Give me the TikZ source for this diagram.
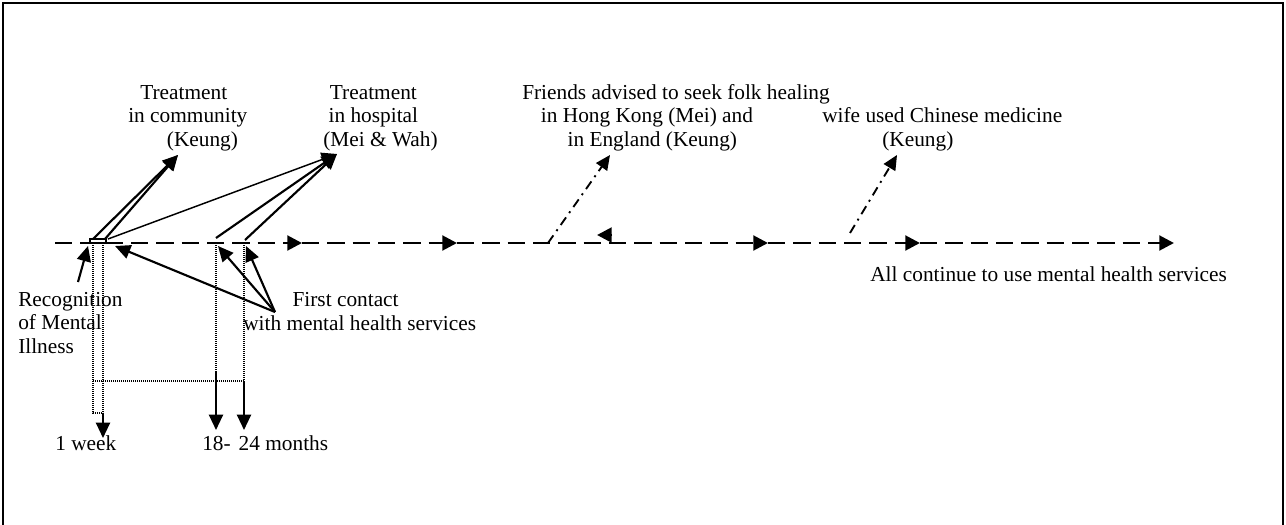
\documentclass[tikz,border=0pt]{standalone}
\usepackage{fontspec}
\setmainfont{Liberation Serif}
\usetikzlibrary{arrows.meta}

\begin{document}
\begin{tikzpicture}[x=0.75pt, y=-0.75pt,
    lbl/.style = {anchor=base west, inner sep=0pt, align=left, font=\fontsize{16}{17.6}\selectfont},
    tl/.style = {line width=2.2pt, dash pattern=on 13pt off 6pt, -{Triangle[length=11pt,width=11pt]}},
    arr/.style = {line width=1.6pt, -{Triangle[length=11.5pt,width=10.5pt]}},
    dd/.style = {line width=1.4pt, dash pattern=on 7pt off 4pt on 1.5pt off 4pt, -{Triangle[length=11pt,width=10pt]}},
    dt/.style = {line width=0.8pt, dash pattern=on 0.8pt off 0.7pt}]
    \useasboundingbox (0,0) rectangle (1286,525);
    \draw[line width=1.5pt] (3,526) -- (3,3) -- (1283,3) -- (1283,526);

    \node[lbl] (1) at (128,146) {\hspace*{9pt}Treatment\\in community\\\hspace*{29pt}(Keung)};
    \node[lbl] (2) at (323,146) {\hspace*{5pt}Treatment\\\hspace*{4pt}in hospital\\(Mei \& Wah)};
    \node[lbl] (3) at (522,146) {Friends advised to seek folk healing\\\hspace*{14pt}in Hong Kong (Mei) and\\\hspace*{34pt}in England (Keung)};
    \node[lbl] (4) at (822,146) {wife used Chinese medicine\\\hspace*{45pt}(Keung)};
    \node[lbl] (5) at (18,353) {Recognition\\of Mental\\Illness};
    \node[lbl] (6) at (243,330) {\hspace*{37pt}First contact\\with mental health services};
    \node[lbl] (7) at (55,450) {1 week};
    \node[lbl] (8) at (202,450) {18-\hspace{6pt}24 months};
    \node[lbl] (9) at (870,281) {All continue to use mental health services};

    \coordinate (s) at (55,243);
    \coordinate (a1) at (302,243);
    \coordinate (a2) at (457,243);
    \coordinate (a3) at (768,243);
    \coordinate (a4) at (920,243);
    \coordinate (e) at (1174,243);
    \coordinate (b1) at (612,235);
    \coordinate (b2) at (597,235);
    \draw[tl] (s) -- (a1);
    \draw[tl] (a1) -- (a2);
    \draw[tl] (a2) -- (a3);
    \draw[tl] (a3) -- (a4);
    \draw[tl] (a4) -- (e);
    \draw[tl, solid] (b1) -- (b2);
    \draw[line width=1.2pt] (90,239) rectangle (106,243);

    \coordinate (k) at (178,155);
    \coordinate (h) at (337,154);
    \coordinate (r1) at (93,239);
    \coordinate (r2) at (105,239);
    \coordinate (r3) at (108,239);
    \coordinate (m1) at (216,238);
    \coordinate (m2) at (245,240);
    \draw[arr] (r1) -- (k);
    \draw[arr] (r2) -- (k);
    \draw[arr, line width=1.1pt] (r3) -- (h);
    \draw[arr] (m1) -- (h);
    \draw[arr] (m2) -- (h);

    \coordinate (g1) at (78,282);
    \coordinate (g2) at (88,246);
    \draw[arr] (g1) -- (g2);

    \coordinate (c) at (275,312);
    \coordinate (t1) at (115,246);
    \coordinate (t2) at (218,246);
    \coordinate (t3) at (246,246);
    \draw[arr] (c) -- (t1);
    \draw[arr] (c) -- (t2);
    \draw[arr] (c) -- (t3);

    \coordinate (f1) at (548,243);
    \coordinate (f2) at (610,155);
    \coordinate (w1) at (850,233);
    \coordinate (w2) at (897,155);
    \draw[dd] (f1) -- (f2);
    \draw[dd] (w1) -- (w2);

    \coordinate (v1) at (93,243);
    \coordinate (v1b) at (93,413);
    \coordinate (v2) at (103,243);
    \coordinate (v2b) at (103,413);
    \coordinate (v2c) at (103,438);
    \coordinate (v3) at (216,243);
    \coordinate (v3b) at (216,372);
    \coordinate (v3c) at (216,430);
    \coordinate (v4) at (244,243);
    \coordinate (v4b) at (244,381);
    \coordinate (v4c) at (244,430);
    \coordinate (hz) at (93,381);
    \draw[dt] (v1) -- (v1b) -- (v2b);
    \draw[dt] (v2) -- (v2b);
    \draw[dt] (v3) -- (v3b);
    \draw[dt] (v4) -- (v4b);
    \draw[dt] (hz) -- (v4b);
    \draw[arr] (v2b) -- (v2c);
    \draw[arr] (v3b) -- (v3c);
    \draw[arr] (v4b) -- (v4c);
\end{tikzpicture}
\end{document}
